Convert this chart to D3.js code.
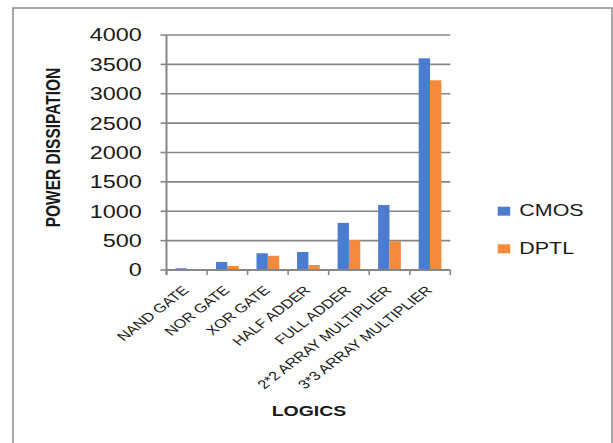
<!DOCTYPE html>
<html>
<head>
<meta charset="utf-8">
<script src="https://cdnjs.cloudflare.com/ajax/libs/d3/7.8.5/d3.min.js"></script>
<style>
  html, body { margin: 0; padding: 0; background: #fff; }
  svg { display: block; }
  text { font-family: "Liberation Sans", Arial, sans-serif; fill: #1a1a1a; }
</style>
</head>
<body>
<svg id="chart" width="613" height="443"></svg>
<script>
// Power dissipation per logic block, CMOS vs DPTL
const categories = ["NAND GATE", "NOR GATE", "XOR GATE", "HALF ADDER", "FULL ADDER",
                    "2*2 ARRAY MULTIPLIER", "3*3 ARRAY MULTIPLIER"];
const seriesNames = ["CMOS", "DPTL"];
const cmosValues = [30, 138, 285, 306, 802, 1106, 3603];
const dptlValues = [0, 68, 242, 85, 510, 490, 3229];
const yTicks = [0, 500, 1000, 1500, 2000, 2500, 3000, 3500, 4000];
const colors = ["#4a7dd1", "#f48a3c"];

const rows = categories.map((c, i) => ({ cat: c, values: [cmosValues[i], dptlValues[i]] }));

const svg = d3.select("#chart");
const sx = 1.3; // horizontal stretch applied to the text glyphs

// outer frame
svg.append("rect")
  .attr("x", 13).attr("y", 8).attr("width", 599).attr("height", 440)
  .attr("fill", "none").attr("stroke", "#8a8a8a").attr("stroke-width", 1.5);

const plot = { left: 166.5, right: 450.3, top: 35, bottom: 270 };

const x0 = d3.scaleBand().domain(categories).range([plot.left, plot.right]).padding(0);
const x1 = d3.scaleBand().domain(seriesNames).range([0, x0.bandwidth()])
  .paddingInner(0).paddingOuter(0.785);
const y = d3.scaleLinear().domain([0, 4000]).range([plot.bottom, plot.top]);

// horizontal gridlines
svg.append("g").selectAll("line").data(yTicks.filter(t => t > 0)).join("line")
  .attr("x1", plot.left).attr("x2", plot.right)
  .attr("y1", d => y(d)).attr("y2", d => y(d))
  .attr("stroke", "#878787").attr("stroke-width", 1.6);

// bars
const groups = svg.append("g").selectAll("g").data(rows).join("g")
  .attr("transform", d => `translate(${x0(d.cat)},0)`);
groups.selectAll("rect").data(d => d.values.map((v, k) => ({ key: seriesNames[k], v, k })))
  .join("rect")
  .attr("x", d => x1(d.key))
  .attr("width", x1.bandwidth())
  .attr("y", d => y(d.v))
  .attr("height", d => y(0) - y(d.v))
  .attr("fill", d => colors[d.k]);

// value axis (left) with outward ticks
const yAxis = svg.append("g");
yAxis.append("line")
  .attr("x1", plot.left).attr("x2", plot.left)
  .attr("y1", plot.top).attr("y2", plot.bottom + 5)
  .attr("stroke", "#878787").attr("stroke-width", 2);
yAxis.selectAll("line.tick").data(yTicks).join("line").attr("class", "tick")
  .attr("x1", plot.left - 6).attr("x2", plot.left)
  .attr("y1", d => y(d)).attr("y2", d => y(d))
  .attr("stroke", "#878787").attr("stroke-width", 1.6);
yAxis.selectAll("text").data(yTicks).join("text")
  .attr("transform", d => `translate(141.7,${y(d) + 6.4}) scale(${sx},1)`)
  .attr("text-anchor", "end")
  .style("font-size", "18px")
  .text(d => d);

// category axis (bottom)
const xAxis = svg.append("g");
xAxis.append("line")
  .attr("x1", plot.left).attr("x2", plot.right)
  .attr("y1", plot.bottom).attr("y2", plot.bottom)
  .attr("stroke", "#878787").attr("stroke-width", 1.8);
const boundaries = categories.map(c => x0(c)).concat([plot.right]);
xAxis.selectAll("line.tick").data(boundaries).join("line").attr("class", "tick")
  .attr("x1", d => d).attr("x2", d => d)
  .attr("y1", plot.bottom).attr("y2", plot.bottom + 5)
  .attr("stroke", "#878787").attr("stroke-width", 1.6);
xAxis.selectAll("text").data(categories).join("text")
  .attr("transform", d => `translate(${x0(d) + x0.bandwidth() / 2 + 3},291) scale(${sx},1) rotate(-45)`)
  .attr("text-anchor", "end")
  .style("font-size", "12.5px")
  .text(d => d);

// axis titles
svg.append("text")
  .attr("transform", `translate(60,147.5) scale(${sx},1) rotate(-90)`)
  .attr("text-anchor", "middle")
  .style("font-size", "15.5px").style("font-weight", "bold")
  .text("POWER DISSIPATION");
svg.append("text")
  .attr("transform", `translate(309,416) scale(${sx},1)`)
  .attr("text-anchor", "middle")
  .style("font-size", "15px").style("font-weight", "bold")
  .text("LOGICS");

// legend
const legend = svg.append("g").selectAll("g").data(seriesNames).join("g")
  .attr("transform", (d, i) => `translate(497.7,${206.7 + i * 37.6})`);
legend.append("rect")
  .attr("width", 12.5).attr("height", 9)
  .attr("fill", (d, i) => colors[i]);
legend.append("text")
  .attr("transform", `translate(21.6,9.2) scale(${sx},1)`)
  .style("font-size", "16.5px")
  .text(d => d);
</script>
</body>
</html>
